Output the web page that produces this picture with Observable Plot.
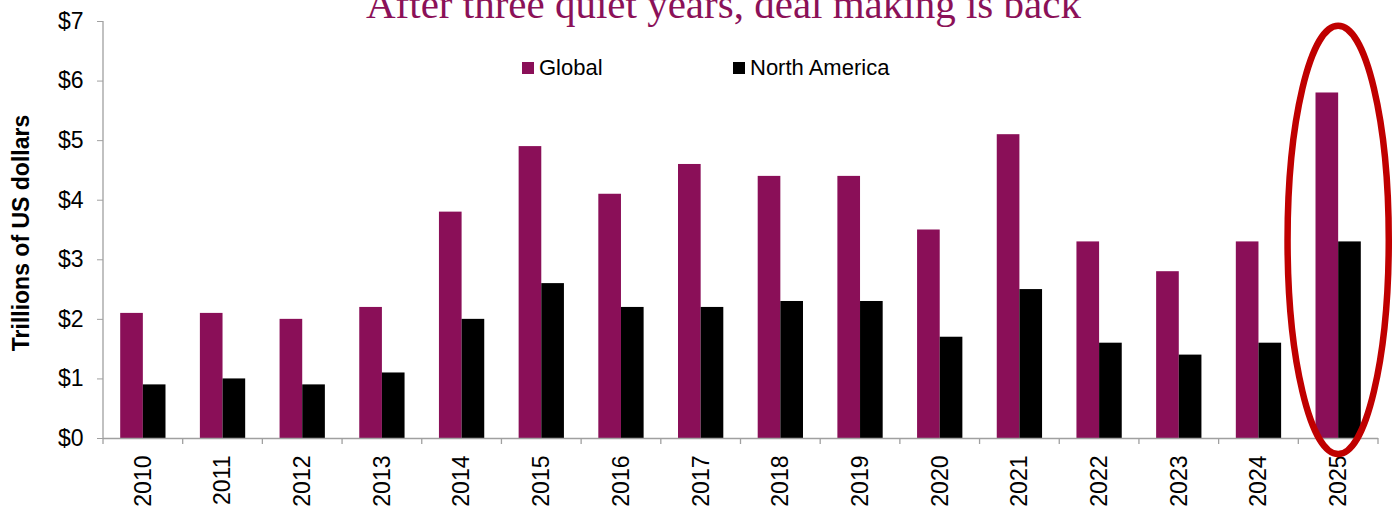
<!DOCTYPE html>
<html>
<head>
<meta charset="utf-8">
<script src="https://cdn.jsdelivr.net/npm/d3@7"></script>
<script src="https://cdn.jsdelivr.net/npm/@observablehq/plot@0.6"></script>
<style>
  html, body { margin: 0; padding: 0; background: #fff; }
  #wrap { position: relative; width: 1395px; height: 508px; overflow: hidden; font-family: "Liberation Sans", Arial, sans-serif; }
  #title { position: absolute; left: 366px; top: -16px; font-family: "Liberation Serif", "Times New Roman", serif; font-size: 41px; line-height: 1; color: #8B1158; white-space: nowrap; z-index: 2; }
  .legend-item { position: absolute; top: 56.5px; display: flex; align-items: center; font-size: 22px; line-height: 1; color: #000; white-space: nowrap; z-index: 2; height: 22px; }
  .legend-item .sw { width: 12px; height: 12px; margin-right: 5px; display: inline-block; }
  #ylabel { position: absolute; left: 21px; top: 233px; transform: translate(-50%, -50%) rotate(-90deg); font-weight: bold; font-size: 23px; line-height: 1; white-space: nowrap; z-index: 2; }
  #chart { position: absolute; left: 0; top: 0; }
</style>
</head>
<body>
<div id="wrap">
  <div id="chart"></div>
  <div id="title"></div>
  <div id="ylabel"></div>
  <div id="legend"></div>
</div>
<script>
// ---- Data ----
const titleText = "After three quiet years, deal making is back";
const yAxisTitle = "Trillions of US dollars";
const years = ["2010","2011","2012","2013","2014","2015","2016","2017","2018","2019","2020","2021","2022","2023","2024","2025"];
const seriesNames = ["Global", "North America"];
const globalValues = [2.1, 2.1, 2.0, 2.2, 3.8, 4.9, 4.1, 4.6, 4.4, 4.4, 3.5, 5.1, 3.3, 2.8, 3.3, 5.8];
const northAmericaValues = [0.9, 1.0, 0.9, 1.1, 2.0, 2.6, 2.2, 2.2, 2.3, 2.3, 1.7, 2.5, 1.6, 1.4, 1.6, 3.3];
const yTicks = [0, 1, 2, 3, 4, 5, 6, 7];
const highlightYear = "2025";

// ---- Styles ----
const GLOBAL_COLOR = "#8A0F58";
const NA_COLOR = "#000000";
const GRAY = "#A0A0A0";
const W = 1395, H = 508;
const mLeft = 103, mRight = 17, mTop = 21, mBottom = 70;
const step = (W - mLeft - mRight) / years.length;
const barW = 22.65;
const outer = (step - 2 * barW) / 2;

const globalRows = years.map((year, i) => ({year, series: seriesNames[0], value: globalValues[i]}));
const naRows = years.map((year, i) => ({year, series: seriesNames[1], value: northAmericaValues[i]}));

const plot = Plot.plot({
  width: W,
  height: H,
  marginLeft: mLeft,
  marginRight: mRight,
  marginTop: mTop,
  marginBottom: mBottom,
  style: { fontFamily: "'Liberation Sans', Arial, sans-serif", fontSize: "23px", color: "#000", background: "transparent", overflow: "visible" },
  x: { domain: years, padding: 0, round: false, label: null },
  y: { domain: [0, 7], label: null },
  marks: [
    Plot.barY(globalRows, { x: "year", y: "value", fill: GLOBAL_COLOR, insetLeft: outer, insetRight: outer + barW }),
    Plot.barY(naRows, { x: "year", y: "value", fill: NA_COLOR, insetLeft: outer + barW, insetRight: outer }),
    Plot.ruleY([0], { stroke: GRAY, strokeWidth: 1.3 }),
    Plot.axisY({ ticks: yTicks, tickFormat: d => "$" + d, tickSize: 6, tickPadding: 14, stroke: GRAY, fill: "#000", label: null }),
    Plot.axisX({ tickSize: 0, tickPadding: 17, tickRotate: -90, fill: "#000", label: null })
  ]
});

// structural axis lines and highlight annotation derived from the plot's scales
const xs = plot.scale("x"), ys = plot.scale("y");
const svg = d3.select(plot);
const g = svg.append("g").attr("stroke", GRAY).attr("stroke-width", 1.3).attr("fill", "none");
const y0 = ys.apply(0);
g.append("line").attr("x1", mLeft).attr("x2", mLeft).attr("y1", ys.apply(7)).attr("y2", y0);
const bounds = years.map(y => xs.apply(y)).concat([xs.apply(years[years.length - 1]) + xs.step]);
bounds.forEach(b => g.append("line").attr("x1", b).attr("x2", b).attr("y1", y0).attr("y2", y0 + 6));

const eTop = ys.apply(6.92), eBottom = ys.apply(-0.27);
svg.append("ellipse")
  .attr("cx", xs.apply(highlightYear) + xs.bandwidth / 2)
  .attr("cy", (eTop + eBottom) / 2)
  .attr("rx", xs.bandwidth * 0.635)
  .attr("ry", (eBottom - eTop) / 2)
  .attr("fill", "none")
  .attr("stroke", "#C00000")
  .attr("stroke-width", 6.5);

document.getElementById("chart").appendChild(plot);
document.getElementById("title").textContent = titleText;
document.getElementById("ylabel").textContent = yAxisTitle;

const legend = document.getElementById("legend");
const legendLefts = [522, 733];
const legendColors = [GLOBAL_COLOR, NA_COLOR];
seriesNames.forEach((name, i) => {
  const item = document.createElement("div");
  item.className = "legend-item";
  item.style.left = legendLefts[i] + "px";
  const sw = document.createElement("span");
  sw.className = "sw";
  sw.style.background = legendColors[i];
  const t = document.createElement("span");
  t.textContent = name;
  item.appendChild(sw);
  item.appendChild(t);
  legend.appendChild(item);
});
</script>
</body>
</html>
